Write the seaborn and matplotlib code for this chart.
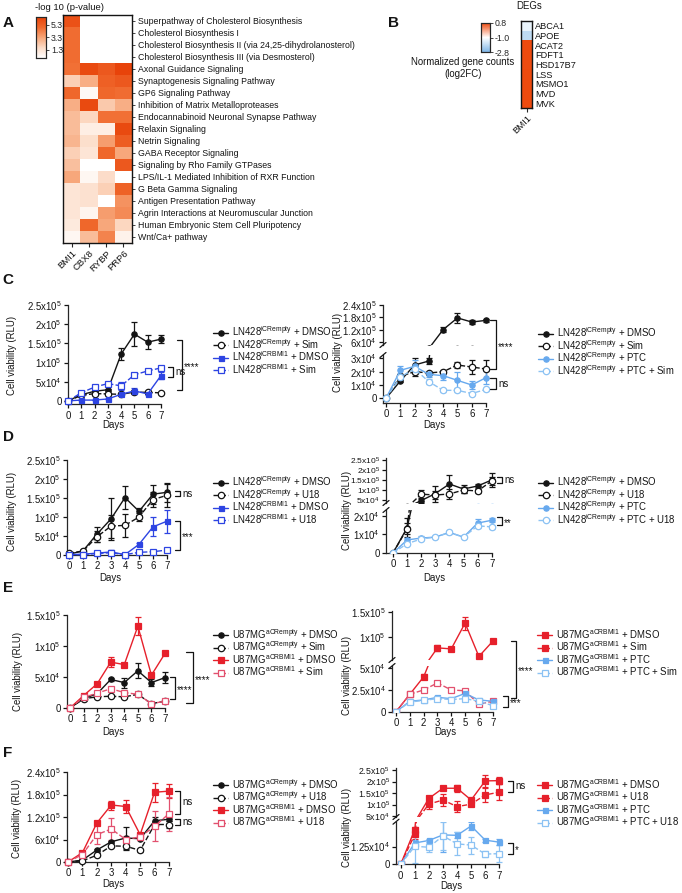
import numpy as np
import pandas as pd
import matplotlib
matplotlib.use("Agg")
import matplotlib.pyplot as plt
import seaborn as sns
from matplotlib.colors import LinearSegmentedColormap
from matplotlib.lines import Line2D

# ---------------------------------------------------------
# 1. DATA
# ---------------------------------------------------------
# Panel A: -log10(p) per pathway (NaN = not enriched)
PATHWAYS = [
    "Superpathway of Cholesterol Biosynthesis",
    "Cholesterol Biosynthesis I",
    "Cholesterol Biosynthesis II (via 24,25-dihydrolanosterol)",
    "Cholesterol Biosynthesis III (via Desmosterol)",
    "Axonal Guidance Signaling",
    "Synaptogenesis Signaling Pathway",
    "GP6 Signaling Pathway",
    "Inhibition of Matrix Metalloproteases",
    "Endocannabinoid Neuronal Synapse Pathway",
    "Relaxin Signaling",
    "Netrin Signaling",
    "GABA Receptor Signaling",
    "Signaling by Rho Family GTPases",
    "LPS/IL-1 Mediated Inhibition of RXR Function",
    "G Beta Gamma Signaling",
    "Antigen Presentation Pathway",
    "Agrin Interactions at Neuromuscular Junction",
    "Human Embryonic Stem Cell Pluripotency",
    "Wnt/Ca+ pathway",
]
GENES_A = ["BMI1", "CBX8", "RYBP", "PRP6"]
nan = np.nan
BMI1_P = [5.9, 4.8, 4.8, 4.8, 4.7, 2.0, 5.0, 3.0, 2.6, 2.6, 2.8, 2.0, 2.5, 3.2, 1.2, 1.2, 1.2, 1.0, 0.4]
CBX8_P = [nan, nan, nan, nan, 6.2, 3.0, 0.3, 6.2, 1.8, 0.8, 1.5, 1.2, 0.0, 0.4, 1.4, 1.4, 0.5, 5.0, 2.6]
RYBP_P = [nan, nan, nan, nan, 5.6, 5.3, 5.0, 2.2, 4.7, 0.8, 3.5, 5.0, 0.0, 1.6, 2.0, 0.0, 3.5, 3.2, 4.2]
PRP6_P = [nan, nan, nan, nan, 6.5, 5.6, 4.8, 3.0, 4.7, 6.2, 5.4, 3.2, 5.6, 0.0, 5.2, 3.8, 4.0, 1.8, 0.6]

# Panel B: DEG log2FC
DEGS = ["ABCA1", "APOE", "ACAT2", "FDFT1", "HSD17B7", "LSS", "MSMO1", "MVD", "MVK"]
BMI1_FC = [-1.3, -1.9, 0.8, 0.8, 0.78, 0.8, 0.8, 0.8, 0.8]

DAYS = [0, 1, 2, 3, 4, 5, 6, 7]

# Panel C left
C1_EMPTY_DMSO = [0, 1.6e4, 2.5e4, 2.9e4, 1.22e5, 1.74e5, 1.53e5, 1.61e5]
C1_EMPTY_DMSO_ERR = [0, 3e3, 3e3, 3e3, 1.5e4, 3.2e4, 1.8e4, 1e4]
C1_EMPTY_SIM = [0, 1.4e4, 1.9e4, 1.8e4, 1.7e4, 2.3e4, 2.2e4, 2.1e4]
C1_EMPTY_SIM_ERR = [0, 2e3, 2e3, 2e3, 2e3, 3e3, 3e3, 3e3]
C1_BMI1_DMSO = [0, 2e3, 2e3, 5e3, 1.7e4, 2.6e4, 1.8e4, 6.6e4]
C1_BMI1_DMSO_ERR = [0, 1e3, 1e3, 1e3, 2e3, 8e3, 3e3, 1e4]
C1_BMI1_SIM = [0, 2.1e4, 3.6e4, 4.5e4, 3.9e4, 6.8e4, 7.8e4, 8.6e4]
C1_BMI1_SIM_ERR = [0, 2e3, 3e3, 3e3, 1e4, 4e3, 5e3, 6e3]

# Panel C right
C2_DMSO = [0, 1.3e4, 2.5e4, 2.8e4, 1.2e5, 1.77e5, 1.57e5, 1.65e5]
C2_DMSO_ERR = [0, 1e3, 5e3, 2e3, 1.2e4, 2.5e4, 1.2e4, 6e3]
C2_SIM = [0, 1.65e4, 2e4, 1.9e4, 2e4, 2.5e4, 2.35e4, 2.2e4]
C2_SIM_ERR = [0, 2e3, 3e3, 1e3, 1e3, 2e3, 5e3, 7e3]
C2_PTC = [0, 2.1e4, 2.4e4, 1.8e4, 1.7e4, 1.35e4, 1e4, 1.55e4]
C2_PTC_ERR = [0, 3e3, 5e3, 2e3, 3e3, 6e3, 3e3, 5e3]
C2_PTC_SIM = [0, 1.6e4, 2.2e4, 1.25e4, 6e3, 6e3, 3.6e3, 6.7e3]
C2_PTC_SIM_ERR = [0, 2e3, 2e3, 2e3, 1e3, 1e3, 1e3, 1e3]

# Panel D left
D1_EMPTY_DMSO = [2e3, 1.1e4, 5.5e4, 9.5e4, 1.51e5, 1.15e5, 1.6e5, 1.65e5]
D1_EMPTY_DMSO_ERR = [0, 3e3, 2e4, 5.5e4, 3e4, 1e4, 2.5e4, 2.5e4]
D1_EMPTY_U18 = [5e3, 1e4, 4.8e4, 7.6e4, 7.8e4, 1e5, 1.46e5, 1.57e5]
D1_EMPTY_U18_ERR = [0, 2e3, 1.5e4, 3e4, 3e4, 1e4, 2e4, 3e4]
D1_BMI1_DMSO = [1e3, 2e3, 5e3, 8e3, 1e3, 2.8e4, 7.4e4, 8.9e4]
D1_BMI1_DMSO_ERR = [0, 1e3, 2e3, 4e3, 1e3, 3e3, 2.5e4, 3e4]
D1_BMI1_U18 = [1e3, 1e3, 4e3, 6e3, 1e3, 7e3, 8.7e3, 1.3e4]
D1_BMI1_U18_ERR = [0, 0, 1e3, 2e3, 0, 1e3, 1e3, 2e3]

# Panel D right
D2_DMSO = [0, 1.35e4, 4.7e4, 8.2e4, 1.3e5, 1.05e5, 1.2e5, 1.5e5]
D2_DMSO_ERR = [0, 5e3, 1e4, 4e4, 4.5e4, 2e4, 1e4, 3.5e4]
D2_U18 = [0, 1.3e4, 7.9e4, 7.5e4, 8e4, 1e5, 9.5e4, 1.45e5]
D2_U18_ERR = [0, 3e3, 2e4, 2e4, 2.5e4, 1.5e4, 1e4, 2e4]
D2_PTC = [0, 7e3, 8e3, 8.5e3, 1.1e4, 8.5e3, 1.6e4, 1.75e4]
D2_PTC_ERR = [0, 1e3, 1e3, 5e2, 1e3, 5e2, 2e3, 1e3]
D2_PTC_U18 = [0, 5e3, 7.5e3, 8.5e3, 1.1e4, 8.5e3, 1.45e4, 1.4e4]
D2_PTC_U18_ERR = [0, 5e2, 5e2, 5e2, 5e2, 5e2, 1e3, 1e3]

# Panel E left
E1_EMPTY_DMSO = [0, 1.5e4, 2.3e4, 4.6e4, 4.1e4, 6e4, 4.1e4, 4.9e4]
E1_EMPTY_DMSO_ERR = [0, 1e3, 2e3, 2e3, 8e3, 1.2e4, 5e3, 9e3]
E1_EMPTY_SIM = [0, 1.5e4, 1.8e4, 1.9e4, 1.8e4, 2.2e4, 7e3, 1.1e4]
E1_EMPTY_SIM_ERR = [0, 1e3, 1e3, 1e3, 1e3, 1e3, 1e3, 1e3]
E1_BMI1_DMSO = [0, 2e4, 3.9e4, 7.4e4, 7e4, 1.32e5, 5.3e4, 8.8e4]
E1_BMI1_DMSO_ERR = [0, 1e3, 2e3, 8e3, 3e3, 1.5e4, 2e3, 2e3]
E1_BMI1_SIM = [0, 1.7e4, 2.4e4, 3.1e4, 2.5e4, 2.2e4, 7e3, 1.1e4]
E1_BMI1_SIM_ERR = [0, 1e3, 1e3, 2e3, 1e3, 1e3, 1e3, 1e3]

# Panel E right
E2_DMSO = [0, 2e4, 4e4, 7.9e4, 7.7e4, 1.28e5, 6.2e4, 9.2e4]
E2_DMSO_ERR = [0, 1e3, 3e3, 6e3, 2e3, 1.3e4, 2e3, 2e3]
E2_SIM = [0, 2e4, 2.5e4, 3.3e4, 2.5e4, 2.4e4, 8.5e3, 1.2e4]
E2_SIM_ERR = [0, 1e3, 1e3, 2e3, 1e3, 1e3, 1e3, 1e3]
E2_PTC = [0, 1.2e4, 1.35e4, 1.65e4, 1.5e4, 2.1e4, 1.35e4, 1.2e4]
E2_PTC_ERR = [0, 1e3, 1e3, 1e3, 1e3, 1e3, 1e3, 1e3]
E2_PTC_SIM = [0, 1.1e4, 1.3e4, 1.5e4, 1.4e4, 1.5e4, 1.2e4, 7e3]
E2_PTC_SIM_ERR = [0, 1e3, 1e3, 1e3, 1e3, 1e3, 1e3, 1e3]

# Panel F left
F1_EMPTY_DMSO = [0, 5e3, 3.2e4, 5.4e4, 6.4e4, 6.2e4, 1.1e5, 1.14e5]
F1_EMPTY_DMSO_ERR = [0, 1e3, 3e3, 3e3, 3e4, 3e3, 1e4, 5e3]
F1_EMPTY_U18 = [0, 3e3, 1.8e4, 4.3e4, 4.2e4, 3.1e4, 1e5, 1e5]
F1_EMPTY_U18_ERR = [0, 1e3, 3e3, 3e3, 1e4, 3e3, 1e4, 1e4]
F1_BMI1_DMSO = [0, 2.5e4, 1.04e5, 1.52e5, 1.48e5, 7.3e4, 1.86e5, 1.89e5]
F1_BMI1_DMSO_ERR = [0, 3e3, 3e3, 1.2e4, 1.8e4, 5e3, 2.5e4, 1.8e4]
F1_BMI1_U18 = [0, 2e4, 7.3e4, 8.8e4, 6e4, 6.7e4, 9.5e4, 1.29e5]
F1_BMI1_U18_ERR = [0, 2e3, 2.5e4, 3e4, 1e4, 5e3, 4e4, 4.5e4]

# Panel F right
F2_DMSO = [0, 2.45e4, 1.27e5, 1.71e5, 1.71e5, 1.2e5, 2.03e5, 2.04e5]
F2_DMSO_ERR = [0, 2e3, 1e4, 8e3, 1.5e4, 8e3, 2.5e4, 1.5e4]
F2_U18 = [0, 2.1e4, 1.02e5, 1.2e5, 9.1e4, 1.02e5, 1.42e5, 1.54e5]
F2_U18_ERR = [0, 3e3, 2e4, 2.5e4, 2.5e4, 1e4, 3e4, 3.5e4]
F2_PTC = [0, 1.5e4, 1.68e4, 2.07e4, 2.04e4, 2.7e4, 1.7e4, 1.56e4]
F2_PTC_ERR = [0, 2e3, 1e3, 1.2e4, 2e3, 3e3, 1e3, 2e3]
F2_PTC_U18 = [0, 1.27e4, 1.2e4, 2e4, 1.44e4, 1.35e4, 7.2e3, 7.5e3]
F2_PTC_U18_ERR = [0, 1.2e4, 3e3, 1e4, 8e3, 6e3, 2e3, 6e3]

LN_E = r"LN428$^{\mathrm{iCRempty}}$"
LN_B = r"LN428$^{\mathrm{iCRBMI1}}$"
U_E = r"U87MG$^{\mathrm{aCRempty}}$"
U_B = r"U87MG$^{\mathrm{aCRBMI1}}$"

# ---------------------------------------------------------
# 2. STYLE
# ---------------------------------------------------------
W, H = 682, 893
BLACK = "#141414"
BLUE = "#2D44E2"
LBLUE = "#67A9EE"
LBLUE_OPEN = "#8CC2F3"
RED = "#E6202B"
PINK = "#E2506E"
FS = 6.9

sns.set_theme(style="ticks")
plt.rcParams["font.family"] = ["Liberation Sans", "DejaVu Sans"]
plt.rcParams["mathtext.fontset"] = "custom"
plt.rcParams["mathtext.rm"] = "Liberation Sans"
plt.rcParams["mathtext.it"] = "Liberation Sans:italic"
plt.rcParams["mathtext.bf"] = "Liberation Sans:bold"
plt.rcParams["axes.linewidth"] = 0.9

STYLE = {
    "k": dict(color=BLACK, ls="-", marker="o", mfc=BLACK, ms=3.8),
    "k_open": dict(color=BLACK, ls="--", marker="o", mfc="white", ms=4.6),
    "b": dict(color=BLUE, ls="-", marker="s", mfc=BLUE, ms=3.6),
    "b_open": dict(color=BLUE, ls="--", marker="s", mfc="white", ms=4.2),
    "lb_o": dict(color=LBLUE, ls="-", marker="o", mfc=LBLUE, ms=3.8),
    "lb_o_open": dict(color=LBLUE_OPEN, ls="--", marker="o", mfc="white", ms=4.6),
    "lb_s": dict(color=LBLUE, ls="-", marker="s", mfc=LBLUE, ms=3.6),
    "lb_s_open": dict(color=LBLUE_OPEN, ls="--", marker="s", mfc="white", ms=4.2),
    "r": dict(color=RED, ls="-", marker="s", mfc=RED, ms=4.0),
    "r_open": dict(color=PINK, ls="--", marker="s", mfc="white", ms=4.2),
    "r_dash": dict(color=RED, ls="--", marker="s", mfc=RED, ms=4.0),
}

fig = plt.figure(figsize=(W / 100, H / 100), dpi=100)


def px_axes(x0, y0, x1, y1):
    return fig.add_axes([x0 / W, 1 - y1 / H, (x1 - x0) / W, (y1 - y0) / H])


def fig_text(x, y, s, **kw):
    kw.setdefault("fontsize", FS)
    kw.setdefault("color", BLACK)
    fig.text(x / W, 1 - y / H, s, **kw)


def fig_line(xs, ys, lw=0.9, **kw):
    kw.setdefault("color", BLACK)
    fig.add_artist(Line2D([x / W for x in xs], [1 - y / H for y in ys],
                          transform=fig.transFigure, lw=lw, **kw))


def sci(v):
    if v == 0:
        return "0"
    e = int(np.floor(np.log10(v)))
    m = v / 10 ** e
    return f"{m:g}x10$^{{{e}}}$"


def style_axis(ax, yticks, label_fs=FS):
    sns.despine(ax=ax)
    ax.set_yticks(yticks)
    ax.set_yticklabels([sci(v) for v in yticks])
    ax.tick_params(length=3, width=0.9, labelsize=FS, pad=1.5, colors=BLACK)
    ax.tick_params(axis="y", labelsize=label_fs)
    ax.set_facecolor("none")
    ax.set_xlabel("")
    ax.set_ylabel("")


def draw_series(ax, vals, errs, key, clip):
    st = STYLE[key]
    sns.lineplot(x=DAYS, y=vals, ax=ax, color=st["color"], linestyle=st["ls"],
                 marker=st["marker"], markersize=st["ms"], markerfacecolor=st["mfc"],
                 markeredgecolor=st["color"], markeredgewidth=0.9, linewidth=1.0,
                 errorbar=None, clip_on=clip, zorder=3)
    eb = ax.errorbar(DAYS, vals, yerr=errs, fmt="none", ecolor=st["color"],
                     elinewidth=0.9, capsize=2.2, capthick=0.9, zorder=2)
    for art in list(eb.lines[1]) + list(eb.lines[2]):
        art.set_clip_on(clip)


def add_legend(x, yc, keys, labels, step=12.5):
    # hand-placed legend rows so the spacing follows the reference
    n = len(keys)
    for i, (key, label) in enumerate(zip(keys, labels)):
        y = yc + (i - (n - 1) / 2) * step
        st = STYLE[key]
        fig_line([x, x + 15], [y, y], lw=1.0, color=st["color"], ls=st["ls"])
        fig_line([x + 7.5], [y], lw=0, color=st["color"], marker=st["marker"],
                 ms=st["ms"], mfc=st["mfc"], mec=st["color"], mew=0.9)
        fig_text(x + 19, y + 3.4, label, va="baseline", ha="left")


def simple_panel(box_x, day0_x, day7_x, y_top, y_bot, ylim, yticks, series):
    ppd = (day7_x - day0_x) / 7
    xmin = (box_x - day0_x) / ppd
    ax = px_axes(box_x, y_top, day7_x, y_bot)
    for vals, errs, key in series:
        draw_series(ax, vals, errs, key, clip=False)
    ax.set_xlim(xmin, 7)
    ax.set_ylim(*ylim)
    style_axis(ax, yticks)
    ax.set_xticks(DAYS)
    return ax


def broken_panel(box_x, day0_x, day7_x, top_box, top_lim, top_ticks,
                 bot_box, bot_lim, bot_ticks, series, top_fs=FS):
    ppd = (day7_x - day0_x) / 7
    xmin = (box_x - day0_x) / ppd
    xmax = 7.5
    x1 = day0_x + xmax * ppd
    ax_t = px_axes(box_x, top_box[0], x1, top_box[1])
    ax_b = px_axes(box_x, bot_box[0], x1, bot_box[1])
    for ax in (ax_t, ax_b):
        for vals, errs, key in series:
            draw_series(ax, vals, errs, key, clip=True)
        ax.set_xlim(xmin, xmax)
    ax_t.set_ylim(*top_lim)
    ax_b.set_ylim(*bot_lim)
    style_axis(ax_t, top_ticks, top_fs)
    style_axis(ax_b, bot_ticks)
    ax_t.spines["bottom"].set_visible(False)
    ax_t.tick_params(axis="x", bottom=False, labelbottom=False)
    ax_b.set_xticks(DAYS)
    ax_b.spines["bottom"].set_bounds(xmin, 7)
    for y in (top_box[1], bot_box[0]):
        fig_line([box_x - 3, box_x + 3], [y + 2.5, y - 2.5])
    return ax_t, ax_b


def bracket(ax_a, ya, ax_b, yb, x0, x1, label, dy=0.0):
    pa = H - ax_a.transData.transform((0, ya))[1]
    pb = H - ax_b.transData.transform((0, yb))[1]
    fig_line([x0, x1, x1, x0], [pa, pa, pb, pb])
    fig_text(x1 + 2, (pa + pb) / 2 + dy, label, va="center", ha="left")


def style_heatmap(ax, cax, rows, cols, row_fs, tick_len, cbar_labels):
    ax.yaxis.tick_right()
    ax.set_yticks(np.arange(len(rows)) + 0.5)
    ax.set_yticklabels(rows, rotation=0, fontsize=row_fs, color=BLACK)
    ax.set_xticks(np.arange(len(cols)) + 0.5)
    ax.set_xticklabels(cols, rotation=45, ha="right", rotation_mode="anchor",
                       fontsize=6.8, color=BLACK)
    ax.tick_params(axis="y", length=tick_len, width=0.6, pad=2.5, right=True, left=False)
    ax.tick_params(axis="x", length=3, width=0.8, pad=1, bottom=True)
    for s in ax.spines.values():
        s.set_visible(True)
        s.set_linewidth(1.0)
        s.set_color(BLACK)
    cax.tick_params(length=2, width=0.6, labelsize=6.3, pad=1.5)
    cax.set_yticklabels(cbar_labels)
    for s in cax.spines.values():
        s.set_visible(True)
        s.set_linewidth(0.8)


# ---------------------------------------------------------
# 3. PANEL A - pathway heatmap
# ---------------------------------------------------------
df_a = pd.DataFrame({"BMI1": BMI1_P, "CBX8": CBX8_P, "RYBP": RYBP_P, "PRP6": PRP6_P},
                    index=PATHWAYS)
cmap_a = LinearSegmentedColormap.from_list(
    "orng", ["#FFFFFF", "#FCDCC8", "#F7A679", "#F06A2E", "#E8430A"])
ax_a = px_axes(63, 15, 132, 243)
cax_a = px_axes(36, 17, 46, 58)
sns.heatmap(df_a, ax=ax_a, cmap=cmap_a, vmin=0, vmax=6.5, cbar_ax=cax_a,
            xticklabels=True, yticklabels=True, cbar_kws={"ticks": [5.3, 3.3, 1.3]})
style_heatmap(ax_a, cax_a, PATHWAYS, GENES_A, 6.3, 2, ["5.3", "3.3", "1.3"])
fig_text(35, 7, "-log 10 (p-value)", va="center", ha="left", fontsize=6.8)

# ---------------------------------------------------------
# 4. PANEL B - DEG heatmap
# ---------------------------------------------------------
df_b = pd.DataFrame({"BMI1": BMI1_FC}, index=DEGS)
cmap_b = LinearSegmentedColormap.from_list(
    "bwo", [(0.0, "#7FB6E6"), (0.5, "#FFFFFF"), (1.0, "#EE4A0E")])
ax_b = px_axes(521, 21, 532, 108)
cax_b = px_axes(481, 23, 490, 52)
sns.heatmap(df_b, ax=ax_b, cmap=cmap_b, vmin=-2.8, vmax=0.8, cbar_ax=cax_b,
            xticklabels=True, yticklabels=True, cbar_kws={"ticks": [0.8, -1.0, -2.8]})
style_heatmap(ax_b, cax_b, DEGS, ["BMI1"], 6.6, 0, ["0.8", "-1.0", "-2.8"])
fig_text(529, 6, "DEGs", va="center", ha="center")
fig_text(463, 62, "Normalized gene counts", va="center", ha="center")
fig_text(463, 74, "(log2FC)", va="center", ha="center")

# ---------------------------------------------------------
# 5. PANELS C-F - cell viability curves
# ---------------------------------------------------------
# C left
ax = simple_panel(68, 68, 161, 305, 404.3, (-9e3, 2.5e5),
                  [0, 5e4, 1e5, 1.5e5, 2e5, 2.5e5],
                  [(C1_EMPTY_DMSO, C1_EMPTY_DMSO_ERR, "k"),
                   (C1_EMPTY_SIM, C1_EMPTY_SIM_ERR, "k_open"),
                   (C1_BMI1_DMSO, C1_BMI1_DMSO_ERR, "b"),
                   (C1_BMI1_SIM, C1_BMI1_SIM_ERR, "b_open")])
bracket(ax, 8.8e4, ax, 6.2e4, 168, 173, "ns")
bracket(ax, 1.6e5, ax, 2.8e4, 177, 182, "****", dy=2)
add_legend(213, 351.5, ["k", "k_open", "b", "b_open"],
           [LN_E + " + DMSO", LN_E + " + Sim", LN_B + " + DMSO", LN_B + " + Sim"])

# C right
ax_t, ax_b2 = broken_panel(383, 386, 486, (305, 345), (4.5e4, 2.4e5),
                           [6e4, 1.2e5, 1.8e5, 2.4e5],
                           (355, 403), (-3.5e3, 3.25e4), [0, 1e4, 2e4, 3e4],
                           [(C2_DMSO, C2_DMSO_ERR, "k"),
                            (C2_SIM, C2_SIM_ERR, "k_open"),
                            (C2_PTC, C2_PTC_ERR, "lb_o"),
                            (C2_PTC_SIM, C2_PTC_SIM_ERR, "lb_o_open")])
bracket(ax_t, 1.65e5, ax_b2, 2.2e4, 490, 496, "****", dy=2)
bracket(ax_b2, 1.55e4, ax_b2, 6.7e3, 490, 496, "ns")
add_legend(538, 352.5, ["k", "k_open", "lb_o", "lb_o_open"],
           [LN_E + " + DMSO", LN_E + " + Sim", LN_E + " + PTC", LN_E + " + PTC + Sim"])

# D left
ax = simple_panel(67, 69, 167, 460, 555, (0, 2.5e5),
                  [0, 5e4, 1e5, 1.5e5, 2e5, 2.5e5],
                  [(D1_EMPTY_DMSO, D1_EMPTY_DMSO_ERR, "k"),
                   (D1_EMPTY_U18, D1_EMPTY_U18_ERR, "k_open"),
                   (D1_BMI1_DMSO, D1_BMI1_DMSO_ERR, "b"),
                   (D1_BMI1_U18, D1_BMI1_U18_ERR, "b_open")])
bracket(ax, 1.68e5, ax, 1.55e5, 175, 180, "ns")
bracket(ax, 9e4, ax, 1.3e4, 175, 180, "***", dy=2)
add_legend(213, 501.5, ["k", "k_open", "b", "b_open"],
           [LN_E + " + DMSO", LN_E + " + U18", LN_B + " + DMSO", LN_B + " + U18"])

# D right
ax_t, ax_b2 = broken_panel(386, 393, 491.7, (458, 503), (3.5e4, 2.6e5),
                           [5e4, 1e5, 1.5e5, 2e5, 2.5e5],
                           (510, 553), (0, 2.3e4), [0, 1e4, 2e4],
                           [(D2_DMSO, D2_DMSO_ERR, "k"),
                            (D2_U18, D2_U18_ERR, "k_open"),
                            (D2_PTC, D2_PTC_ERR, "lb_o"),
                            (D2_PTC_U18, D2_PTC_U18_ERR, "lb_o_open")], top_fs=6.0)
bracket(ax_t, 1.65e5, ax_t, 1.35e5, 497, 502, "ns")
bracket(ax_b2, 1.9e4, ax_b2, 1.5e4, 497, 502, "**", dy=2)
add_legend(538, 501.5, ["k", "k_open", "lb_o", "lb_o_open"],
           [LN_E + " + DMSO", LN_E + " + U18", LN_E + " + PTC", LN_E + " + PTC + U18"])

# E left
ax = simple_panel(67, 70, 165, 615, 708, (0, 1.5e5),
                  [0, 5e4, 1e5, 1.5e5],
                  [(E1_EMPTY_DMSO, E1_EMPTY_DMSO_ERR, "k"),
                   (E1_EMPTY_SIM, E1_EMPTY_SIM_ERR, "k_open"),
                   (E1_BMI1_DMSO, E1_BMI1_DMSO_ERR, "r"),
                   (E1_BMI1_SIM, E1_BMI1_SIM_ERR, "r_open")])
bracket(ax, 5e4, ax, 1.5e4, 170, 175, "****", dy=2)
bracket(ax, 9e4, ax, 8e3, 186, 193, "****", dy=2)
add_legend(213, 654, ["k", "k_open", "r", "r_open"],
           [U_E + " + DMSO", U_E + " + Sim", U_B + " + DMSO", U_B + " + Sim"])

# E right
ax_t, ax_b2 = broken_panel(392, 396, 492.7, (611, 660), (5.5e4, 1.52e5),
                           [1e5, 1.5e5],
                           (666, 711.7), (0, 5.25e4), [0, 2.5e4, 5e4],
                           [(E2_DMSO, E2_DMSO_ERR, "r"),
                            (E2_SIM, E2_SIM_ERR, "r_open"),
                            (E2_PTC, E2_PTC_ERR, "lb_s"),
                            (E2_PTC_SIM, E2_PTC_SIM_ERR, "lb_s_open")])
bracket(ax_t, 9.3e4, ax_b2, 1.55e4, 511, 516, "****", dy=2)
bracket(ax_b2, 1.8e4, ax_b2, 5.8e3, 503, 508, "***", dy=2)
add_legend(537, 654, ["r", "r_dash", "lb_s", "lb_s_open"],
           [U_B + " + DMSO", U_B + " + Sim", U_B + " + PTC", U_B + " + PTC + Sim"])

# F left
ax = simple_panel(67, 68, 169, 772, 862, (0, 2.4e5),
                  [0, 6e4, 1.2e5, 1.8e5, 2.4e5],
                  [(F1_EMPTY_DMSO, F1_EMPTY_DMSO_ERR, "k"),
                   (F1_EMPTY_U18, F1_EMPTY_U18_ERR, "k_open"),
                   (F1_BMI1_DMSO, F1_BMI1_DMSO_ERR, "r"),
                   (F1_BMI1_U18, F1_BMI1_U18_ERR, "r_open")])
bracket(ax, 1.89e5, ax, 1.29e5, 175, 180, "ns")
bracket(ax, 1.14e5, ax, 1e5, 175, 180, "ns")
add_legend(213, 804, ["k", "k_open", "r", "r_open"],
           [U_E + " + DMSO", U_E + " + U18", U_B + " + DMSO", U_B + " + U18"])

# F right
ax_t, ax_b2 = broken_panel(396, 400.7, 499.3, (768, 817), (4.6e4, 2.59e5),
                           [5e4, 1e5, 1.5e5, 2e5, 2.5e5],
                           (821.7, 864.3), (0, 3.0e4), [0, 1.25e4],
                           [(F2_DMSO, F2_DMSO_ERR, "r"),
                            (F2_U18, F2_U18_ERR, "r_dash"),
                            (F2_PTC, F2_PTC_ERR, "lb_s"),
                            (F2_PTC_U18, F2_PTC_U18_ERR, "lb_s_open")], top_fs=6.3)
bracket(ax_t, 2.04e5, ax_t, 1.54e5, 508, 513, "ns")
bracket(ax_b2, 1.5e4, ax_b2, 7.5e3, 508, 513, "*", dy=2)
add_legend(537, 804, ["r", "r_dash", "lb_s", "lb_s_open"],
           [U_B + " + DMSO", U_B + " + U18", U_B + " + PTC", U_B + " + PTC + U18"])

# axis titles
for x, y in [(12, 355), (338, 352), (12, 511), (347, 510),
             (18, 671), (347, 675), (17, 818), (347, 827)]:
    fig_text(x, y, "Cell viability (RLU)", rotation=90, va="center", ha="center")
for x, y in [(113, 425), (434, 425), (110, 578), (434, 578),
             (113, 732), (445, 732), (113, 884), (451, 886)]:
    fig_text(x, y, "Days", va="center", ha="center")

# panel letters
for letter, x, y in [("A", 8, 23), ("B", 393, 23), ("C", 8, 280), ("D", 8, 437),
                     ("E", 8, 588), ("F", 8, 753)]:
    fig_text(x, y, letter, fontsize=11, fontweight="bold", va="center", ha="center")

fig.savefig("out.png", dpi=100)
